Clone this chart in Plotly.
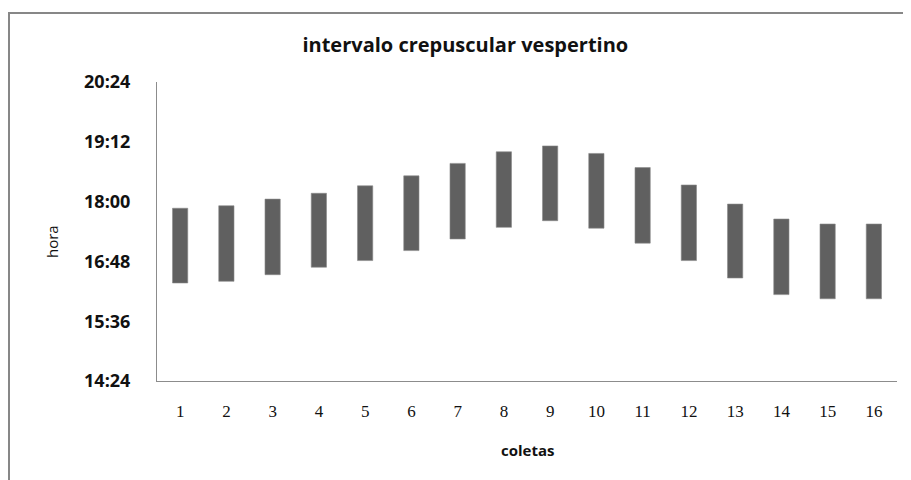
import plotly.graph_objects as go

coletas = [str(i) for i in range(1, 17)]
inicio = ["16:22", "16:24", "16:32", "16:41", "16:49", "17:01", "17:15", "17:29",
          "17:37", "17:28", "17:10", "16:49", "16:28", "16:08", "16:03", "16:03"]
fim = ["17:52", "17:55", "18:03", "18:10", "18:19", "18:31", "18:46", "19:00",
       "19:07", "18:58", "18:41", "18:20", "17:57", "17:39", "17:33", "17:33"]
ticks_hora = ["14:24", "15:36", "16:48", "18:00", "19:12", "20:24"]


def minutos(h):
    hh, mm = h.split(":")
    return int(hh) * 60 + int(mm)


base = [minutos(h) for h in inicio]
dur = [minutos(b) - minutos(a) for a, b in zip(inicio, fim)]
tickvals = [minutos(h) for h in ticks_hora]

# area do grafico em pixels (a pagina tem 8px de margem no body)
L, T, B, R = 149, 74, 107, 22
W, H = 911, 480
pw, ph = W - L - R, H - T - B

fig = go.Figure(go.Bar(
    x=coletas, y=dur, base=base,
    marker=dict(color="#606060", line=dict(color="#8a8a8a", width=0.6)),
    width=0.33,
))

fig.update_layout(
    width=W, height=H,
    margin=dict(l=L, r=R, t=T, b=B),
    paper_bgcolor="white", plot_bgcolor="white",
    showlegend=False,
    font=dict(family="Open Sans, sans-serif", color="#222222"),
    title=dict(text="intervalo crepuscular vespertino", x=0.502, xanchor="center",
               y=1 - 37 / H, yanchor="middle",
               font=dict(size=20, weight="bold", color="#111111")),
)

fig.update_xaxes(
    type="category", range=[-0.5, 15.5],
    showline=True, linecolor="#8c8c8c", linewidth=1,
    showgrid=False, ticks="outside", ticklen=15, tickcolor="rgba(0,0,0,0)",
    tickfont=dict(family="Liberation Serif, DejaVu Serif, serif", size=17, color="#111111"),
)
fig.update_yaxes(
    range=[tickvals[0], tickvals[-1]],
    tickvals=tickvals, ticktext=ticks_hora,
    showline=True, linecolor="#8c8c8c", linewidth=1,
    showgrid=False, zeroline=False,
    ticks="outside", ticklen=22, tickcolor="rgba(0,0,0,0)",
    tickfont=dict(size=18, weight="bold", color="#111111"),
)

fig.add_annotation(text="coletas", xref="paper", yref="paper", x=0.5, y=-(442 - (T + ph)) / ph,
                   xanchor="center", yanchor="middle",
                   showarrow=False, font=dict(size=15, weight="bold", color="#111111"))
fig.add_annotation(text="hora", xref="paper", yref="paper", x=(44 - L) / pw,
                   y=(T + ph - 234) / ph, xanchor="center", yanchor="middle",
                   textangle=-90, showarrow=False,
                   font=dict(size=15, color="#111111"))

# moldura do grafico
fig.add_shape(type="rect", xref="paper", yref="paper",
              x0=(1 - L) / pw, x1=1.2, y0=-0.6, y1=(T + ph - 5) / ph,
              line=dict(color="#878787", width=2), layer="below")

fig.write_html("out.html")
